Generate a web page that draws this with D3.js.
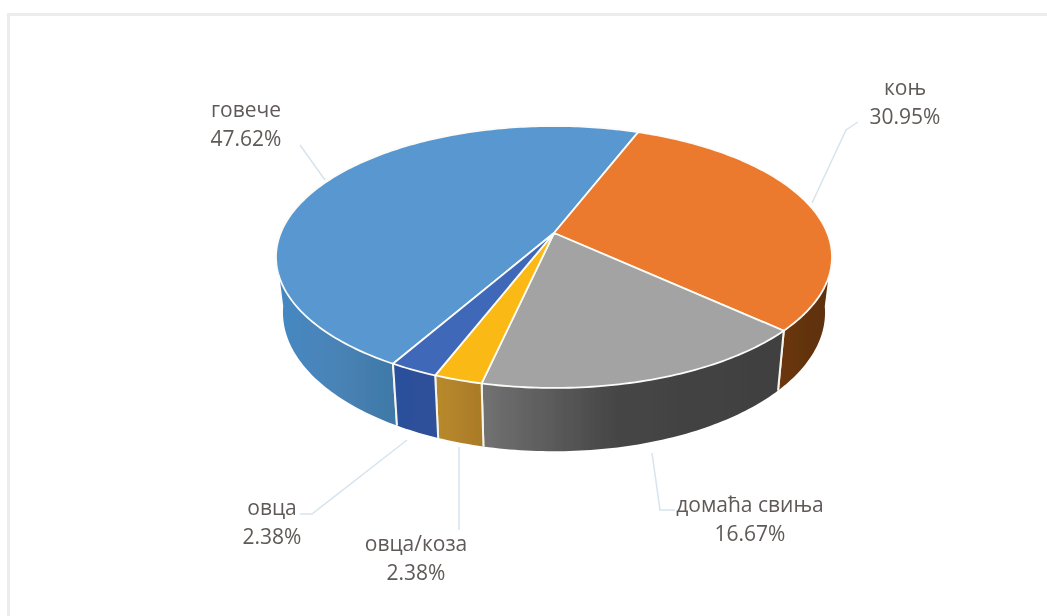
<!DOCTYPE html>
<html>
<head>
<meta charset="utf-8">
<script src="https://cdn.jsdelivr.net/npm/d3@7"></script>
<style>
  html, body { margin: 0; padding: 0; background: #fff; }
  svg { display: block; }
  text { font-family: "Open Sans", sans-serif; font-size: 21px; font-weight: 500; fill: #5f5a58; text-anchor: middle; }
</style>
</head>
<body>
<div id="chart"></div>
<script>
var width = 1047, height = 616;

// data
var categories = ["говече", "коњ", "домаћа свиња", "овца/коза", "овца"];
var values = [47.62, 30.95, 16.67, 2.38, 2.38];
var topColors = ["#5897d0", "#eb7a2d", "#a3a3a3", "#fbb914", "#3f68b8"];
var wallLeft = ["#4488c2", "#6b3710", "#727272", "#b98a2c", "#2b4f9c"];
var wallMid = ["#4a84b8", "#643410", "#454545", "#b2832a", "#2d4f9a"];
var wallRight = ["#3e78a6", "#5c2f10", "#404040", "#a97a26", "#30509a"];

// label anchors and leader lines, in page pixels
var labelPos = [[246, 117], [905, 95], [750, 512], [416, 551], [272, 515]];
var leaders = [
  [[300, 145], [325, 180]],
  [[858, 122], [846, 130], [812, 203]],
  [[652, 453], [660, 510], [675, 510]],
  [[459, 447], [459, 530]],
  [[407, 440], [312, 514], [300, 514]]
];

var svg = d3.select("#chart")
  .append("svg")
  .attr("width", width)
  .attr("height", height);

var defs = svg.append("defs");

// the source is a soft scan, a small blur brings the edges closer
defs.append("filter")
  .attr("id", "soft")
  .attr("filterUnits", "userSpaceOnUse")
  .attr("x", 0).attr("y", 0)
  .attr("width", width).attr("height", height)
  .append("feGaussianBlur")
  .attr("stdDeviation", 0.5);

var root = svg.append("g").attr("filter", "url(#soft)");

// faint frame around the chart
root.append("path")
  .attr("d", "M8.5,620V14.5H1050")
  .attr("fill", "none")
  .attr("stroke", "#ececea")
  .attr("stroke-width", 3);

// pie angles, clockwise from the back of the disc
var startAngle = 209.7 * Math.PI / 180;
var pie = d3.pie().sort(null).startAngle(startAngle).endAngle(startAngle + 2 * Math.PI);
var arcs = pie(values);

// perspective of the tilted disc, the apex sits above the ellipse centre
var cx = 554, cy = 233, ax = 273.3, by = 126.6, k = -0.183;
function topPoint(a) {
  var u = Math.sin(a), v = -Math.cos(a), w = 1 + k * v;
  return [cx + ax * u / w, cy + by * v / w];
}
function bottomPoint(a) {
  var p = topPoint(a);
  return [cx + (p[0] - cx) * 0.975, cy + (p[1] - cy) * 1.06 + 54];
}

function samples(a0, a1) {
  var n = Math.max(2, Math.ceil((a1 - a0) * 60));
  return d3.range(n + 1).map(function (i) { return a0 + (a1 - a0) * i / n; });
}

var line = d3.line();
var frontFrom = 98 * Math.PI / 180, frontTo = 262 * Math.PI / 180;

// side walls first, only the part that faces the viewer
var walls = root.append("g");
arcs.forEach(function (d, i) {
  // some slices wrap past a full turn
  [0, -2 * Math.PI].forEach(function (shift) {
    var a0 = Math.max(d.startAngle + shift, frontFrom);
    var a1 = Math.min(d.endAngle + shift, frontTo);
    if (a1 <= a0) return;
    var angles = samples(a0, a1);
    var upper = angles.map(topPoint);
    var lower = angles.map(bottomPoint).reverse();
    var id = "wall" + i;
    var xs = upper.concat(lower).map(function (p) { return p[0]; });
    var grad = defs.append("linearGradient")
      .attr("id", id)
      .attr("gradientUnits", "userSpaceOnUse")
      .attr("x1", d3.min(xs)).attr("x2", d3.max(xs))
      .attr("y1", 0).attr("y2", 0);
    grad.append("stop").attr("offset", 0).attr("stop-color", wallLeft[i]);
    grad.append("stop").attr("offset", 0.45).attr("stop-color", wallMid[i]);
    grad.append("stop").attr("offset", 1).attr("stop-color", wallRight[i]);
    walls.append("path")
      .attr("d", line(upper.concat(lower)) + "Z")
      .attr("fill", "url(#" + id + ")");
    // white dividers between neighbouring walls
    [a0, a1].forEach(function (a) {
      if (a === frontFrom || a === frontTo) return;
      walls.append("path")
        .attr("d", line([topPoint(a), bottomPoint(a)]))
        .attr("stroke", "#f6f4ee")
        .attr("stroke-width", 2);
    });
  });
});

// top of the disc
root.append("g").selectAll("path")
  .data(arcs)
  .enter()
  .append("path")
  .attr("d", function (d) {
    var pts = samples(d.startAngle, d.endAngle).map(topPoint);
    return line([[cx, cy]].concat(pts)) + "Z";
  })
  .attr("fill", function (d, i) { return topColors[i]; })
  .attr("stroke", "#fbfbf8")
  .attr("stroke-width", 1.8)
  .attr("stroke-linejoin", "round");

// leader lines
root.append("g").selectAll("path")
  .data(leaders)
  .enter()
  .append("path")
  .attr("d", function (d) { return line(d); })
  .attr("fill", "none")
  .attr("stroke", "#d6e4ee")
  .attr("stroke-width", 1.5);

// labels
var labels = root.append("g").selectAll("g")
  .data(categories)
  .enter()
  .append("g")
  .attr("transform", function (d, i) { return "translate(" + labelPos[i][0] + "," + labelPos[i][1] + ")"; });

labels.append("text").text(function (d) { return d; });
labels.append("text")
  .attr("y", 29)
  .text(function (d, i) { return values[i].toFixed(2) + "%"; });
</script>
</body>
</html>
